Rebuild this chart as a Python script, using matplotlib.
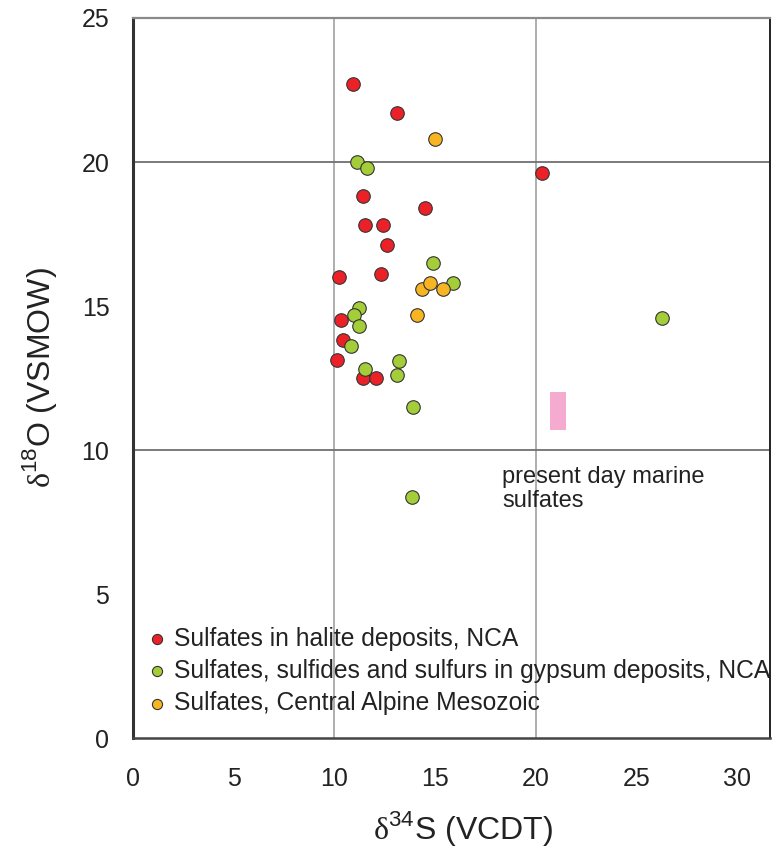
import matplotlib
matplotlib.use("Agg")
import matplotlib.pyplot as plt
from matplotlib.patches import Rectangle

plt.rcParams['font.family'] = ['Liberation Sans', 'DejaVu Sans']
plt.rcParams['mathtext.fontset'] = 'custom'
plt.rcParams['mathtext.rm'] = 'Liberation Serif'
plt.rcParams['mathtext.sf'] = 'Liberation Sans'

# d34S / d18O of the three sample groups
halite_s = [10.94, 13.13, 20.30, 11.44, 14.52, 11.54, 12.43, 12.63, 10.25, 12.33,
            10.35, 10.45, 10.15, 11.44, 12.06]
halite_o = [22.71, 21.71, 19.61, 18.82, 18.41, 17.81, 17.81, 17.11, 16.01, 16.10,
            14.50, 13.81, 13.12, 12.49, 12.49]

gypsum_s = [11.14, 11.61, 14.92, 15.91, 11.24, 10.99, 11.24, 10.83, 13.23, 11.54,
            13.13, 13.92, 13.84, 26.28]
gypsum_o = [20.01, 19.80, 16.50, 15.81, 14.92, 14.69, 14.31, 13.61, 13.10, 12.80,
            12.60, 11.50, 8.38, 14.59]

alpine_s = [15.02, 14.34, 14.75, 15.41, 14.12]
alpine_o = [20.81, 15.59, 15.81, 15.59, 14.69]

# modern seawater sulfate field
marine_s = (20.7, 21.5)
marine_o = (10.7, 12.0)

xticks = [0, 5, 10, 15, 20, 25, 30]
yticks = [0, 5, 10, 15, 20, 25]
grid_s = [10, 20]
grid_o = [10, 20]

fig = plt.figure(figsize=(7.72, 8.49), dpi=100)
ax = fig.add_axes([0.1723, 0.1307, 0.8257, 0.8481])

for v in grid_s:
    ax.axvline(v, color='#a8a8a8', lw=1.3, zorder=1)
for v in grid_o:
    ax.axhline(v, color='#707070', lw=1.3, zorder=1)

ax.add_patch(Rectangle((marine_s[0], marine_o[0]), marine_s[1] - marine_s[0],
                       marine_o[1] - marine_o[0], facecolor='#f5abd0',
                       edgecolor='none', zorder=2))
ax.text(18.35, 8.65, 'present day marine\nsulfates', fontsize=17, color='#222222',
        va='center', ha='left', linespacing=1.15, zorder=3)

kw = dict(s=95, edgecolors='#333333', linewidths=0.8, zorder=4)
ax.scatter(halite_s, halite_o, c='#ec2128', label='Sulfates in halite deposits, NCA', **kw)
ax.scatter(gypsum_s, gypsum_o, c='#a3cd39',
           label='Sulfates, sulfides and sulfurs in gypsum deposits, NCA', **kw)
ax.scatter(alpine_s, alpine_o, c='#f7b523', label='Sulfates, Central Alpine Mesozoic', **kw)

ax.set_xlim(0, 31.66)
ax.set_ylim(0, 25)
ax.set_xticks(xticks)
ax.set_yticks(yticks)
ax.tick_params(axis='both', length=0, labelsize=18, labelcolor='#222222')
ax.tick_params(axis='x', pad=21)
ax.tick_params(axis='y', pad=17)

ax.spines['left'].set_linewidth(2.2)
ax.spines['left'].set_color('#333333')
ax.spines['bottom'].set_linewidth(1.8)
ax.spines['bottom'].set_color('#444444')
ax.spines['top'].set_linewidth(1.6)
ax.spines['top'].set_color('#8a8a8a')
ax.spines['right'].set_linewidth(1.4)
ax.spines['right'].set_color('#222222')

ax.set_xlabel(r'$\mathrm{\delta}^{\mathsf{34}}$S (VCDT)', fontsize=23, color='#222222')
ax.xaxis.set_label_coords(0.518, -0.125)
ax.xaxis.label.set_va('center')
ax.set_ylabel(r'$\mathrm{\delta}^{\mathsf{18}}$O (VSMOW)', fontsize=23, color='#222222')
ax.yaxis.set_label_coords(-0.146, 0.5)
ax.yaxis.label.set_va('center')

leg = ax.legend(loc='lower left', bbox_to_anchor=(0.014, 0.032), frameon=False,
                fontsize=17.7, markerscale=0.75, handletextpad=0.1, labelspacing=0.33,
                borderpad=0, borderaxespad=0, handlelength=1.2, labelcolor='#222222')

fig.savefig('out.png', dpi=100)
